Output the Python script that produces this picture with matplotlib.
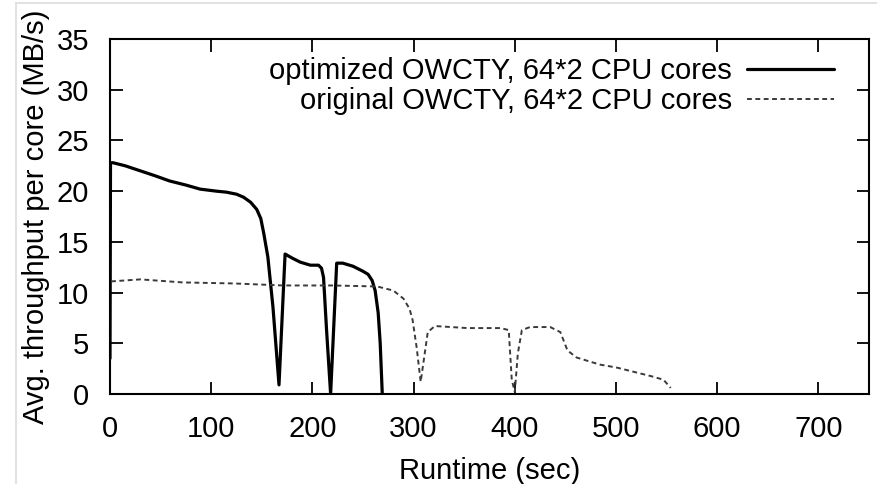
import numpy as np
import matplotlib.pyplot as plt
from matplotlib.lines import Line2D

# optimized OWCTY, 64*2 CPU cores
opt_t = [0, 0.5, 3, 15, 30, 45, 59, 75, 89, 105, 115, 125, 132, 139, 145, 149, 152, 156, 161, 167,
         173, 180, 188, 198, 206, 209, 211, 214, 218,
         224, 230, 240, 250, 255, 259, 262, 265, 267, 269]
opt_v = [3.5, 22.8, 22.8, 22.5, 22.0, 21.5, 21.0, 20.6, 20.2, 20.0, 19.9, 19.7, 19.4, 18.9, 18.2, 17.3, 15.8, 13.5, 8.6, 0.9,
         13.8, 13.4, 13.0, 12.7, 12.7, 12.4, 11.5, 6.3, 0.0,
         12.9, 12.9, 12.6, 12.1, 11.8, 11.2, 10.2, 8.0, 5.0, 0.1]

# original OWCTY, 64*2 CPU cores
orig_t = [1, 30, 72, 122, 171, 220, 264, 280, 290, 296, 299, 303, 307,
          311, 314, 321, 353, 386, 394, 397, 400,
          403, 407, 415, 435, 445, 452, 461, 484, 501, 517, 537, 547, 554]
orig_v = [11.1, 11.3, 11.0, 10.9, 10.7, 10.7, 10.6, 10.2, 9.4, 8.4, 7.3, 4.6, 1.2,
          4.0, 6.1, 6.7, 6.5, 6.5, 6.3, 1.4, 0.2,
          4.0, 6.3, 6.6, 6.6, 6.1, 4.3, 3.6, 2.9, 2.6, 2.2, 1.7, 1.4, 0.6]

labels = ["optimized OWCTY, 64*2 CPU cores", "original OWCTY, 64*2 CPU cores"]
xticks = [0, 100, 200, 300, 400, 500, 600, 700]
yticks = [0, 5, 10, 15, 20, 25, 30, 35]

plt.rcParams['font.family'] = ['Liberation Sans', 'DejaVu Sans']
plt.rcParams['font.size'] = 21

fig = plt.figure(figsize=(8.77, 4.84), dpi=100)
ax = fig.add_axes([110/877, 90/484, 759/877, 355/484])

ax.plot(opt_t, opt_v, color='black', lw=2.3, label=labels[0],
        solid_joinstyle='round', solid_capstyle='round')
ax.plot(orig_t, orig_v, color='#3a3a3a', lw=1.4, dashes=(2.5, 1.8), label=labels[1])

ax.set_xlim(0, 750)
ax.set_ylim(0, 35)
ax.set_xticks(xticks)
ax.set_yticks(yticks)
ax.tick_params(direction='in', length=9, width=1.3, top=True, right=True, pad=15)
for s in ax.spines.values():
    s.set_linewidth(1.5)

ax.set_xlabel("Runtime (sec)", labelpad=10)
ax.set_ylabel("Avg. throughput per core (MB/s)", labelpad=5)

ax.legend(loc='upper right', bbox_to_anchor=(0.954, 0.949), frameon=False,
          markerfirst=False, handlelength=3.0, handletextpad=0.5,
          labelspacing=0.08, borderpad=0, borderaxespad=0)

# light frame from the source image
fig.add_artist(Line2D([16/877, 1], [1 - 3/484, 1 - 3/484], color='#dddddd', lw=1.2))
fig.add_artist(Line2D([16/877, 16/877], [0, 1 - 3/484], color='#dddddd', lw=1.2))

fig.savefig("out.png", dpi=100)
